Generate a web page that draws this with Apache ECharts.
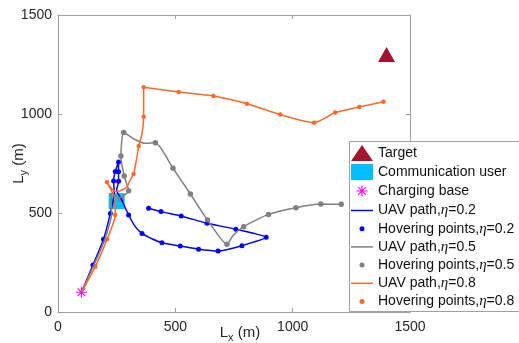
<!DOCTYPE html>
<html>
<head>
<meta charset="utf-8">
<script src="https://cdn.jsdelivr.net/npm/echarts@6/dist/echarts.min.js"></script>
<style>
  html, body { margin: 0; padding: 0; background: #fff; }
  #chart { width: 519px; height: 343px; }
</style>
</head>
<body>
<div id="chart"></div>
<script>
// markers
const targetPos = [[1400, 1300]]
const userPos = [[250, 560]]
const basePos = [[100, 100]]

// UAV path, eta = 0.2 (blue)
const pathX02 = [100, 149, 194, 223, 240, 237, 244, 258, 258, 258, 250, 268, 301, 330, 358, 400, 443, 521, 599, 682, 784, 887, 758, 635, 525, 439, 386]
const pathY02 = [100, 237, 367, 498, 600, 662, 710, 758, 708, 660, 615, 575, 490, 430, 397, 370, 350, 333, 317, 308, 335, 377, 418, 448, 485, 507, 524]
const hoverX02 = [149, 194, 223, 237, 244, 258, 258, 258, 301, 358, 443, 521, 599, 682, 784, 887, 758, 635, 525, 439, 386]
const hoverY02 = [237, 367, 498, 662, 710, 758, 708, 660, 490, 397, 350, 333, 317, 308, 335, 377, 418, 448, 485, 507, 524]

// UAV path, eta = 0.5 (gray)
const pathX05 = [100, 152, 200, 228, 225, 262, 301, 282, 268, 280, 330, 370, 415, 490, 564, 637, 720, 745, 791, 897, 1014, 1120, 1207]
const pathY05 = [100, 235, 368, 497, 600, 578, 613, 687, 788, 906, 870, 852, 855, 726, 596, 465, 342, 385, 431, 493, 527, 545, 544]
const hoverX05 = [268, 301, 282, 268, 280, 415, 490, 564, 637, 720, 791, 897, 1014, 1120, 1207]
const hoverY05 = [569, 613, 687, 788, 906, 855, 726, 596, 465, 342, 431, 493, 527, 545, 544]

// UAV path, eta = 0.8 (orange)
const pathX08 = [100, 159, 209, 244, 240, 209, 230, 251, 280, 294, 308, 322, 336, 344, 358, 365, 365, 514, 663, 805, 947, 1092, 1181, 1284, 1387]
const pathY08 = [100, 229, 367, 490, 580, 655, 622, 608, 620, 633, 667, 697, 780, 838, 900, 986, 1135, 1111, 1091, 1052, 997, 956, 1007, 1035, 1062]
const hoverX08 = [159, 209, 244, 209, 322, 344, 365, 365, 514, 663, 805, 947, 1092, 1181, 1284, 1387]
const hoverY08 = [229, 367, 490, 655, 697, 838, 986, 1135, 1111, 1091, 1052, 997, 956, 1007, 1035, 1062]

const zip = (xs, ys) => xs.map((x, i) => [x, ys[i]])

// asterisk marker, padded so it draws smaller than its box
const starPath = 'path://M-14.5,-14.5L-14.5,-14.5ZM14.5,14.5L14.5,14.5Z' +
  'M-1,-10L1,-10L1,10L-1,10Z' +
  'M-10,-1L10,-1L10,1L-10,1Z' +
  'M-6.3,-7.7L7.7,6.3L6.3,7.7L-7.7,-6.3Z' +
  'M-7.7,6.3L6.3,-7.7L7.7,-6.3L-6.3,7.7Z'
const lineIcon = 'path://M0,0L22,0L22,1.5L0,1.5Z'

const FONT = 'Liberation Sans'
const axisGray = '#a0a0a0'
const textCol = '#262626'

const etaFormatter = (name) => name.replace('η', '{i|η}')
const richEta = { i: { fontStyle: 'italic', fontFamily: 'Liberation Serif', fontSize: 15, color: '#111' } }
// L with subscript
const subRich = {
  a: { fontSize: 15, lineHeight: 18, verticalAlign: 'top', color: textCol, fontFamily: FONT },
  s: { fontSize: 11, lineHeight: 11, verticalAlign: 'bottom', padding: [8, 0, 0, 0], color: textCol, fontFamily: FONT }
}

const chart = echarts.init(document.getElementById('chart'), null, { renderer: 'canvas' })

const axisCommon = {
  type: 'value', min: 0, max: 1500, interval: 500,
  axisLine: { show: true, onZero: false, lineStyle: { color: axisGray, width: 1 } },
  axisTick: { show: true, inside: true, length: 4, lineStyle: { color: axisGray } },
  splitLine: { show: false }
}
const plain = (v) => String(v)

chart.setOption({
  animation: false,
  backgroundColor: '#fff',
  textStyle: { fontFamily: FONT },
  grid: { left: 58, right: 109, top: 15, bottom: 31, outerBoundsMode: 'none', containLabel: false },
  xAxis: [
    Object.assign({}, axisCommon, {
      position: 'bottom',
      axisLabel: { color: textCol, fontSize: 14, margin: 8, fontFamily: FONT, formatter: plain },
      name: '{a|L}{s|x}{a| (m)}',
      nameLocation: 'middle',
      nameGap: 13,
      nameMoveOverlap: false,
      nameTextStyle: { padding: [0, 0, 0, 12], rich: subRich }
    }),
    Object.assign({}, axisCommon, { position: 'top', axisLabel: { show: false } })
  ],
  yAxis: [
    Object.assign({}, axisCommon, {
      position: 'left',
      axisLabel: { color: textCol, fontSize: 14, margin: 6, fontFamily: FONT, formatter: plain },
      name: '{a|L}{s|y}{a| (m)}',
      nameLocation: 'middle',
      nameGap: 29,
      nameMoveOverlap: false,
      nameTextStyle: { rich: subRich }
    }),
    Object.assign({}, axisCommon, { position: 'right', axisLabel: { show: false } })
  ],
  graphic: [{
    type: 'rect', z: 3,
    shape: { x: 349.5, y: 141.5, width: 180, height: 170 },
    style: { fill: '#fff', stroke: axisGray, lineWidth: 1 }
  }],
  legend: [
    {
      left: 351, top: 145, orient: 'vertical', padding: 0,
      itemWidth: 22, itemHeight: 16, itemGap: 3, symbolKeepAspect: true,
      textStyle: { fontSize: 14, color: '#111', fontFamily: FONT },
      data: [
        { name: 'Target', icon: 'triangle' },
        { name: 'Communication user', icon: 'rect' },
        { name: 'Charging base', icon: starPath }
      ]
    },
    {
      left: 351, top: 203, orient: 'vertical', padding: 0,
      itemWidth: 22, itemHeight: 5, itemGap: 3.2, symbolKeepAspect: true,
      formatter: etaFormatter,
      textStyle: { fontSize: 14, color: '#111', fontFamily: FONT, rich: richEta },
      data: [
        { name: 'UAV path,η=0.2', icon: lineIcon }, { name: 'Hovering points,η=0.2', icon: 'circle' },
        { name: 'UAV path,η=0.5', icon: lineIcon }, { name: 'Hovering points,η=0.5', icon: 'circle' },
        { name: 'UAV path,η=0.8', icon: lineIcon }, { name: 'Hovering points,η=0.8', icon: 'circle' }
      ]
    }
  ],
  series: [
    { name: 'Target', type: 'scatter', data: targetPos, symbol: 'triangle', symbolSize: [17, 15], itemStyle: { color: '#A2142F', opacity: 1 } },
    { name: 'Communication user', type: 'scatter', data: userPos, symbol: 'rect', symbolSize: 16, itemStyle: { color: '#00BFFF', opacity: 1 } },
    { name: 'Charging base', type: 'scatter', data: basePos, symbol: starPath, symbolSize: 16, itemStyle: { color: '#FF00FF', opacity: 1 } },
    { name: 'UAV path,η=0.2', type: 'line', data: zip(pathX02, pathY02), symbol: 'none', smooth: 0.2, lineStyle: { color: '#0000FF', width: 1.5 }, itemStyle: { color: '#0000FF' } },
    { name: 'Hovering points,η=0.2', type: 'scatter', data: zip(hoverX02, hoverY02), symbolSize: 5, itemStyle: { color: '#0000FF', opacity: 1 } },
    { name: 'UAV path,η=0.5', type: 'line', data: zip(pathX05, pathY05), symbol: 'none', smooth: 0.2, lineStyle: { color: '#808080', width: 1.5 }, itemStyle: { color: '#808080' } },
    { name: 'Hovering points,η=0.5', type: 'scatter', data: zip(hoverX05, hoverY05), symbolSize: 5.5, itemStyle: { color: '#808080', opacity: 1 } },
    { name: 'UAV path,η=0.8', type: 'line', data: zip(pathX08, pathY08), symbol: 'none', smooth: 0.2, lineStyle: { color: '#FF6929', width: 1.5 }, itemStyle: { color: '#FF6929' } },
    { name: 'Hovering points,η=0.8', type: 'scatter', data: zip(hoverX08, hoverY08), symbolSize: 4.5, itemStyle: { color: '#FF6929', opacity: 1 } }
  ]
})
</script>
</body>
</html>
